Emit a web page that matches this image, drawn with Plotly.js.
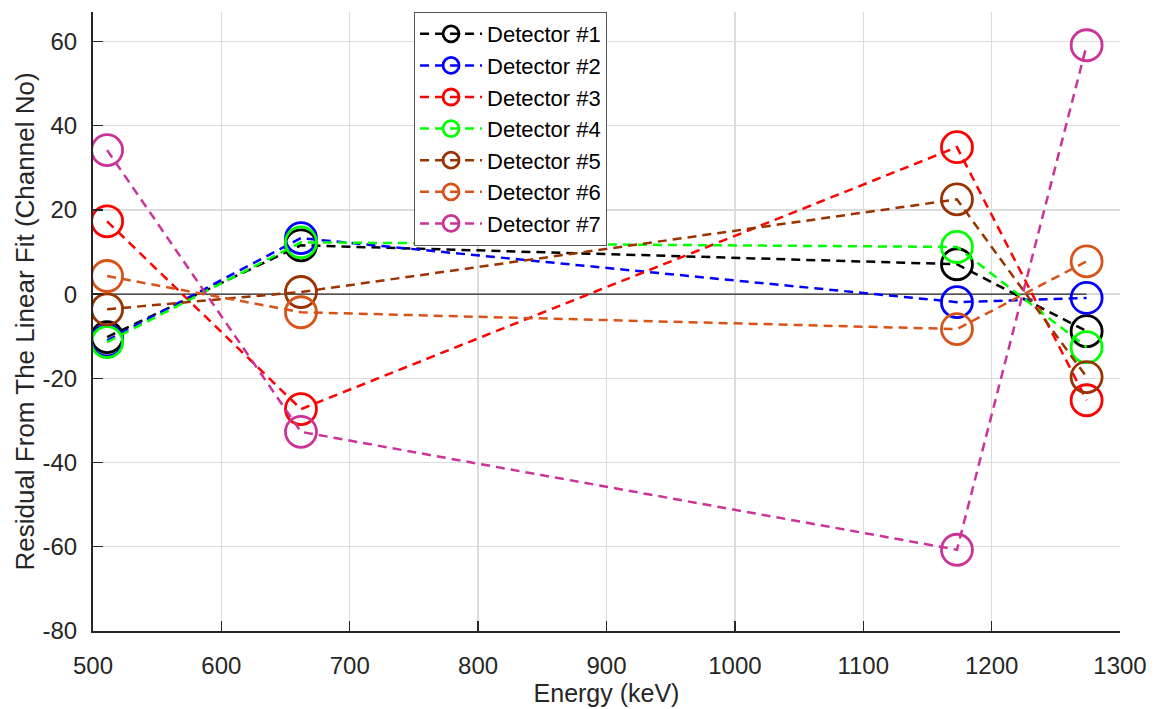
<!DOCTYPE html>
<html><head><meta charset="utf-8">
<script src="https://cdn.plot.ly/plotly-3.0.1.min.js"></script>
<style>html,body{margin:0;padding:0;background:#fff}#chart{width:1155px;height:709px}</style>
</head><body><div id="chart"></div>
<script>
const energies = [511, 662, 1173, 1274];
const detectorNames = ["Detector #1","Detector #2","Detector #3","Detector #4","Detector #5","Detector #6","Detector #7"];
const det1 = [-10.2, 11.6, 7.1, -8.8];
const det2 = [-11.0, 13.3, -1.9, -0.9];
const det3 = [17.3, -27.3, 34.9, -25.2];
const det4 = [-11.4, 12.3, 11.2, -12.6];
const det5 = [-3.6, 0.5, 22.5, -19.7];
const det6 = [4.3, -4.3, -8.3, 7.8];
const det7 = [34.2, -32.7, -60.7, 59.1];
const colors = ["#000000","#0000FF","#FF0000","#00FF00","#993300","#D95319","#CC3399"];
const zeroX = [500, 1274];
const zeroY = [0, 0];
const yTickVals = [-80, -60, -40, -20, 0, 20, 40, 60];
const yTickText = ["-80", "-60", "-40", "-20", "0", "20", "40", "60"];
const xTickVals = [500, 600, 700, 800, 900, 1000, 1100, 1200, 1300];
const xTickText = ["500", "600", "700", "800", "900", "1000", "1100", "1200", "1300"];

const series = [det1, det2, det3, det4, det5, det6, det7];
const traces = [{
  x: zeroX, y: zeroY, mode: "lines", showlegend: false, hoverinfo: "skip",
  line: {color: "#000000", width: 1}
}];
series.forEach((s, i) => {
  traces.push({
    x: energies, y: s, name: detectorNames[i], mode: "lines+markers",
    line: {color: colors[i], width: 2.5, dash: "9px,6px"},
    marker: {symbol: "circle-open", size: 31, color: colors[i], line: {width: 2.8, color: colors[i]}}
  });
});

const layout = {
  width: 1155, height: 709,
  margin: {l: 93, r: 35, t: 12, b: 78},
  paper_bgcolor: "#fff", plot_bgcolor: "#fff",
  font: {family: "Arial, 'Liberation Sans', sans-serif", color: "#262626", size: 24},
  xaxis: {
    range: [500, 1300], tickmode: "array", tickvals: xTickVals, ticktext: xTickText,
    showgrid: true, gridcolor: "#dcdcdc", gridwidth: 1.3,
    zeroline: false, showline: true, linecolor: "#262626", linewidth: 2,
    ticks: "inside", ticklen: 10, tickcolor: "#262626", tickwidth: 1.3,
    ticklabelstandoff: 12,
    tickfont: {size: 24, color: "#262626"},
    title: {text: "Energy (keV)", font: {size: 25, color: "#262626"}, standoff: 4}
  },
  yaxis: {
    range: [-80, 67], tickmode: "array", tickvals: yTickVals, ticktext: yTickText,
    showgrid: true, gridcolor: "#dcdcdc", gridwidth: 1.3,
    zeroline: false, showline: true, linecolor: "#262626", linewidth: 2,
    ticks: "inside", ticklen: 10, tickcolor: "#262626", tickwidth: 1.3,
    ticklabelstandoff: 9,
    tickfont: {size: 24, color: "#262626"},
    title: {text: "Residual From The Linear Fit (Channel No)", font: {size: 26, color: "#262626"}, standoff: 0}
  },
  legend: {
    x: 0.3126, y: 1, xanchor: "left", yanchor: "top",
    bgcolor: "#ffffff", bordercolor: "#555555", borderwidth: 1,
    font: {size: 22, color: "#000000"},
    itemwidth: 62,
    tracegroupgap: 0
  },
  showlegend: true
};
Plotly.newPlot("chart", traces, layout, {displayModeBar: false, staticPlot: true});
</script></body></html>
